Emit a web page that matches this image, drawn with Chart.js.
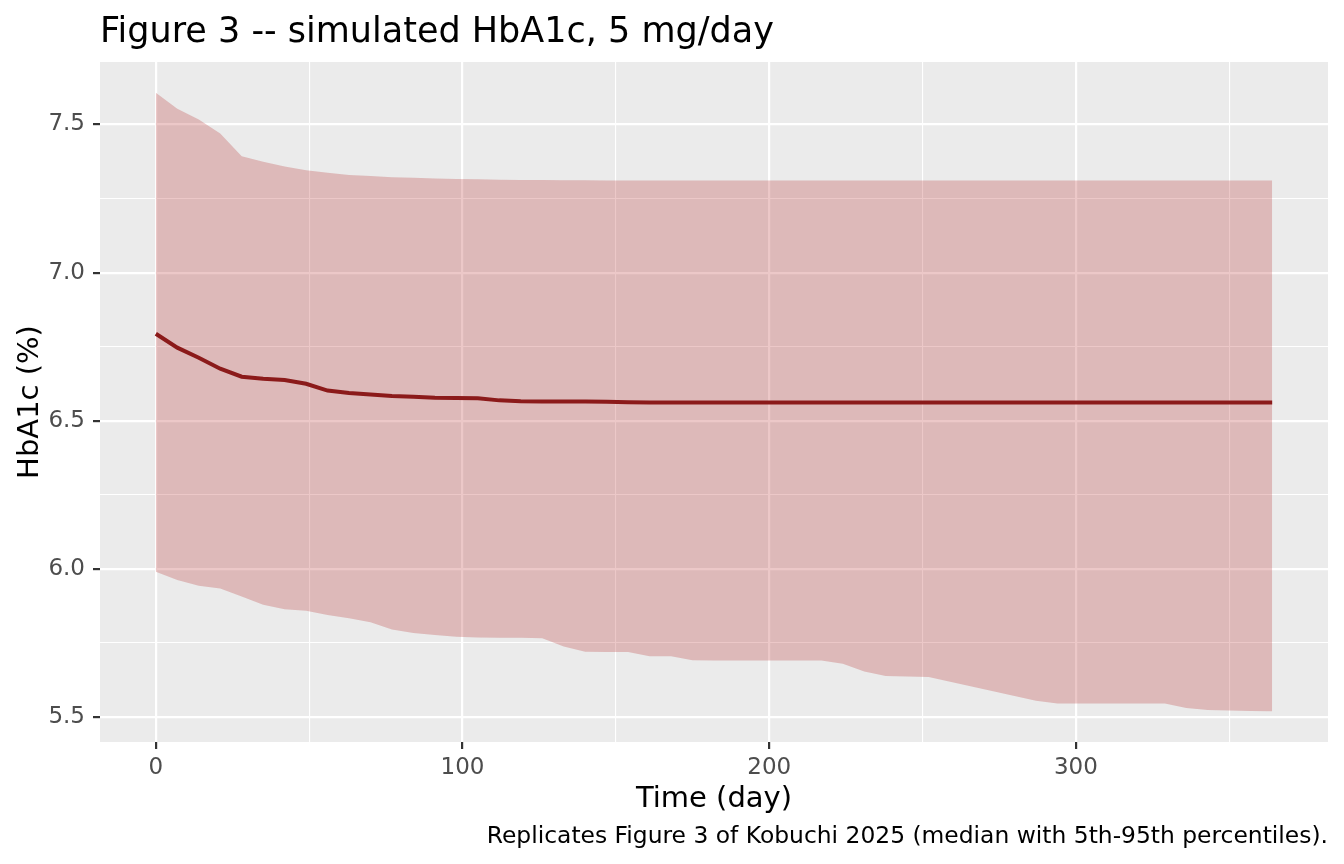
<!DOCTYPE html>
<html>
<head>
<meta charset="utf-8">
<script src="https://cdn.jsdelivr.net/npm/chart.js@4/dist/chart.umd.min.js"></script>
<style>
  html, body { margin: 0; padding: 0; background: #fff; }
  canvas { display: block; }
</style>
</head>
<body>
<canvas id="hba1cChart" width="1344" height="864"></canvas>
<script>
const days = [
  0, 7, 14, 21, 28, 35, 42, 49, 56, 63, 70, 77, 84, 91, 98, 105, 112, 119,
  126, 133, 140, 147, 154, 161, 168, 175, 182, 189, 196, 203, 210, 217, 224,
  231, 238, 245, 252, 259, 266, 273, 280, 287, 294, 301, 308, 315, 322, 329,
  336, 343, 350, 357, 364,
];

const median = [
  6.794, 6.747, 6.713, 6.676, 6.649, 6.642, 6.638, 6.625, 6.602, 6.594, 6.589,
  6.584, 6.581, 6.578, 6.577, 6.576, 6.569, 6.566, 6.565, 6.565, 6.565, 6.564,
  6.563, 6.562, 6.562, 6.562, 6.562, 6.562, 6.562, 6.562, 6.562, 6.562, 6.562,
  6.562, 6.562, 6.562, 6.562, 6.562, 6.562, 6.562, 6.562, 6.562, 6.562, 6.562,
  6.562, 6.562, 6.562, 6.562, 6.562, 6.562, 6.562, 6.562, 6.562,
];

const p95 = [
  7.607, 7.553, 7.517, 7.470, 7.393, 7.374, 7.358, 7.346, 7.337, 7.330, 7.326,
  7.322, 7.320, 7.318, 7.316, 7.315, 7.314, 7.313, 7.313, 7.312, 7.312, 7.311,
  7.311, 7.311, 7.311, 7.311, 7.311, 7.311, 7.311, 7.311, 7.311, 7.311, 7.311,
  7.311, 7.311, 7.311, 7.311, 7.311, 7.311, 7.311, 7.311, 7.311, 7.311, 7.311,
  7.311, 7.311, 7.311, 7.311, 7.311, 7.311, 7.311, 7.311, 7.311,
];

const p05 = [
  5.991, 5.963, 5.943, 5.934, 5.907, 5.879, 5.864, 5.859, 5.845, 5.834, 5.820,
  5.796, 5.784, 5.777, 5.771, 5.769, 5.768, 5.768, 5.766, 5.738, 5.721, 5.720,
  5.720, 5.705, 5.705, 5.692, 5.691, 5.691, 5.691, 5.691, 5.691, 5.691, 5.680,
  5.654, 5.639, 5.637, 5.635, 5.619, 5.603, 5.587, 5.571, 5.555, 5.546, 5.546,
  5.546, 5.546, 5.546, 5.546, 5.531, 5.524, 5.522, 5.521, 5.520,
];

const xMajorTicks = [0, 100, 200, 300];
const xMinorTicks = [50, 150, 250, 350];
const yMajorTicks = [5.5, 6.0, 6.5, 7.0, 7.5];
const yMinorTicks = [5.75, 6.25, 6.75, 7.25];

const titleText = "Figure 3 -- simulated HbA1c, 5 mg/day";
const xTitle = "Time (day)";
const yTitle = "HbA1c (%)";
const captionText = "Replicates Figure 3 of Kobuchi 2025 (median with 5th-95th percentiles).";

const FONT = "'DejaVu Sans', sans-serif";

const toPoints = (ys) => days.map((d, i) => ({ x: d, y: ys[i] }));

const isMajor = (list, v) => list.some((m) => Math.abs(m - v) < 1e-6);

function gridFor(majors) {
  return {
    color: "#ffffff",
    lineWidth: (c) => (c.tick && isMajor(majors, c.tick.value) ? 2.2 : 1.1),
    tickColor: (c) => (c.tick && isMajor(majors, c.tick.value) ? "#333333" : "rgba(0,0,0,0)"),
    tickWidth: 2.2,
    tickLength: 7,
    drawTicks: true,
    drawOnChartArea: true,
  };
}

const ctx = document.getElementById("hba1cChart").getContext("2d");

const chart = new Chart(ctx, {
  type: "line",
  data: {
    datasets: [
      {
        label: "Median",
        data: toPoints(median),
        borderColor: "#8B1A1A",
        borderWidth: 4,
        pointRadius: 0,
        fill: false,
        tension: 0,
      },
      {
        label: "95th",
        data: toPoints(p95),
        borderWidth: 0,
        borderColor: "rgba(0,0,0,0)",
        backgroundColor: "rgba(178, 34, 34, 0.25)",
        pointRadius: 0,
        fill: "+1",
        tension: 0,
      },
      {
        label: "5th",
        data: toPoints(p05),
        borderWidth: 0,
        borderColor: "rgba(0,0,0,0)",
        pointRadius: 0,
        fill: false,
        tension: 0,
      },
    ],
  },
  options: {
    responsive: false,
    maintainAspectRatio: false,
    devicePixelRatio: 1,
    animation: false,
    layout: {
      padding: { top: 62, right: 16, bottom: 0, left: 0 },
    },
    plugins: {
      legend: { display: false },
      tooltip: { enabled: false },
    },
    scales: {
      x: {
        type: "linear",
        min: -18.2,
        max: 382.2,
        border: { display: false },
        grid: gridFor(xMajorTicks),
        afterBuildTicks(scale) {
          scale.ticks = [...xMajorTicks, ...xMinorTicks]
            .sort((a, b) => a - b)
            .map((v) => ({ value: v }));
        },
        afterFit(scale) {
          scale.height = 122;
        },
        ticks: {
          autoSkip: false,
          maxRotation: 0,
          padding: 5,
          color: "#4D4D4D",
          font: { family: FONT, size: 23 },
          callback: (v) => (isMajor(xMajorTicks, v) ? String(v) : ""),
        },
      },
      y: {
        type: "linear",
        min: 5.416,
        max: 7.711,
        border: { display: false },
        grid: gridFor(yMajorTicks),
        afterBuildTicks(scale) {
          scale.ticks = [...yMajorTicks, ...yMinorTicks]
            .sort((a, b) => a - b)
            .map((v) => ({ value: v }));
        },
        afterFit(scale) {
          scale.width = 100;
        },
        ticks: {
          autoSkip: false,
          padding: 8,
          color: "#4D4D4D",
          font: { family: FONT, size: 23 },
          callback: (v) => (isMajor(yMajorTicks, v) ? v.toFixed(1) : ""),
        },
      },
    },
  },
  plugins: [
    {
      id: "panelAndText",
      beforeDraw(chart) {
        const { ctx, chartArea: a } = chart;
        ctx.save();
        ctx.fillStyle = "#EBEBEB";
        ctx.fillRect(a.left, a.top, a.right - a.left, a.bottom - a.top);
        ctx.restore();
      },
      afterDraw(chart) {
        const { ctx, chartArea: a } = chart;
        ctx.save();
        ctx.fillStyle = "#000000";
        ctx.textBaseline = "alphabetic";

        ctx.font = "35px " + FONT;
        ctx.textAlign = "left";
        ctx.fillText(titleText, a.left, 42);

        ctx.font = "29px " + FONT;
        ctx.textAlign = "center";
        ctx.fillText(xTitle, (a.left + a.right) / 2, 807);

        ctx.save();
        ctx.translate(38, (a.top + a.bottom) / 2);
        ctx.rotate(-Math.PI / 2);
        ctx.fillText(yTitle, 0, 0);
        ctx.restore();

        ctx.font = "23.4px " + FONT;
        ctx.textAlign = "right";
        ctx.fillText(captionText, a.right, 843);
        ctx.restore();
      },
    },
  ],
});
</script>
</body>
</html>
